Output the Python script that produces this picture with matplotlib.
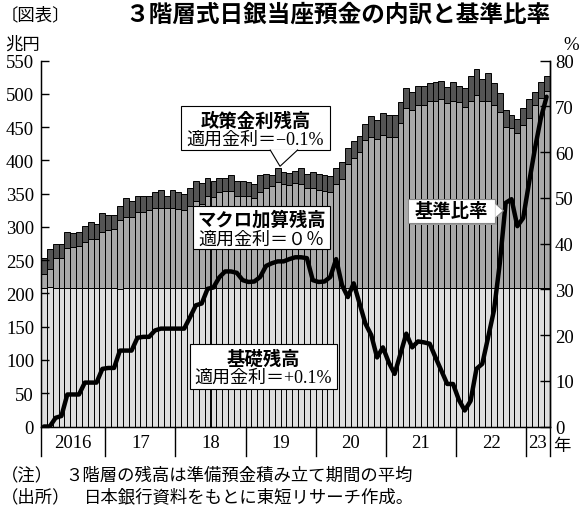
import numpy as np
import matplotlib.pyplot as plt
from matplotlib.patches import Rectangle, Polygon
from matplotlib.transforms import Affine2D

plt.rcParams['font.family'] = ['Liberation Serif', 'Noto Sans CJK JP']
JP = ['Noto Sans CJK JP']

W, H = 581, 510  # 出力サイズ (px)

# 年ラベルと各年の月数 (2016年2月〜2023年4月)
years = ['2016', '17', '18', '19', '20', '21', '22', '23']
months_in_year = [11, 12, 12, 12, 12, 12, 12, 4]

# 基礎残高 (兆円)
base = [208, 210, 208, 208, 208, 208, 208, 208, 208, 208, 208, 208, 208, 207, 208,
        208, 208, 208, 208, 208, 208, 208, 208, 208, 208, 208, 208, 208, 208, 208,
        208, 208, 208, 208, 208, 208, 208, 208, 208, 208, 208, 208, 208, 208, 208,
        208, 208, 208, 208, 208, 208, 208, 208, 208, 208, 208, 208, 208, 208, 208,
        208, 208, 208, 208, 208, 208, 208, 208, 208, 208, 208, 208, 208, 208, 208,
        208, 208, 208, 208, 208, 208, 208, 208, 208, 208, 208, 208]

# マクロ加算残高 (兆円)
macro = [21, 26, 46, 46, 60, 62, 63, 69, 74, 74, 85, 88, 89, 103, 107,
         107, 115, 115, 117, 121, 121, 121, 121, 119, 117, 123, 131, 127, 138, 137,
         144, 146, 146, 138, 138, 138, 136, 144, 151, 153, 159, 156, 155, 158, 157,
         151, 150, 148, 146, 144, 156, 164, 186, 196, 204, 222, 227, 224, 230, 227,
         227, 248, 270, 267, 275, 275, 281, 282, 285, 279, 282, 280, 272, 281, 290,
         282, 282, 275, 264, 242, 240, 233, 245, 256, 275, 286, 297]

# 政策金利残高 (兆円)
policy = [24, 31, 21, 21, 25, 21, 22, 25, 25, 22, 28, 22, 21, 21, 28,
          24, 24, 23, 22, 24, 26, 18, 26, 26, 25, 28, 30, 31, 27, 24,
          22, 20, 24, 23, 23, 21, 20, 26, 20, 17, 21, 18, 18, 18, 24,
          20, 24, 23, 24, 25, 25, 25, 24, 25, 25, 25, 32, 28, 33, 33,
          33, 32, 31, 28, 29, 29, 27, 28, 26, 24, 28, 24, 29, 38, 39,
          33, 41, 34, 29, 25, 20, 21, 26, 28, 20, 24, 22]

# 基準比率 (%)
ratio = [0, 0, 1.9, 2.3, 7.0, 7.0, 7.0, 9.6, 9.6, 9.6, 12.6, 12.8, 12.8, 16.6, 16.6,
         16.6, 19.4, 19.6, 19.6, 21.0, 21.4, 21.4, 21.4, 21.4, 21.4, 23.9, 26.5, 26.9, 30.1, 30.4,
         32.6, 33.9, 33.9, 33.6, 32.0, 31.6, 31.7, 32.7, 35.1, 35.7, 36.1, 36.1, 36.6, 37.0, 37.0,
         36.8, 32.0, 31.6, 31.7, 32.7, 36.6, 30.9, 28.3, 31.3, 26.9, 22.5, 20.0, 15.1, 17.3, 14.0,
         11.5, 15.9, 20.3, 17.3, 18.6, 18.4, 18.1, 15.1, 12.2, 9.3, 9.3, 5.8, 3.5, 5.6, 12.6,
         13.7, 19.5, 25.4, 35.7, 48.9, 49.7, 43.8, 45.6, 53.3, 60.7, 67.3, 72.1]

base = np.array(base)
macro = np.array(macro)
policy = np.array(policy)
x = np.arange(len(base))

fig = plt.figure(figsize=(W / 100, H / 100), dpi=100)
# 元画像のピクセル座標 (左上原点) で置くための変換
px = Affine2D().scale(1 / W, -1 / H).translate(0, 1) + fig.transFigure

ax = fig.add_axes([41 / W, 1 - 427.5 / H, (549.5 - 41) / W, (427.5 - 61.6) / H])
ax.bar(x, base, width=1.0, color='#dedede', edgecolor='black', linewidth=0.7)
ax.bar(x, macro, bottom=base, width=1.0, color='#a9a9a9', edgecolor='black', linewidth=0.7)
ax.bar(x, policy, bottom=base + macro, width=1.0, color='#545454', edgecolor='black', linewidth=0.7)
ax.set_xlim(-0.5, len(x) - 0.5)
ax.set_ylim(0, 550)
ax.set_yticks(range(0, 551, 50))
ax.set_xticks([])
ax.tick_params(axis='y', direction='in', length=6, width=1, labelsize=13.5, pad=5)
ax.spines['top'].set_visible(False)
for s in ['left', 'right', 'bottom']:
    ax.spines[s].set_linewidth(1)

ax2 = ax.twinx()
ax2.plot(x, ratio, color='black', linewidth=3.2, solid_joinstyle='round', solid_capstyle='round')
ax2.set_ylim(0, 80)
ax2.set_yticks(range(0, 81, 10))
ax2.tick_params(axis='y', direction='in', length=7, width=1, labelsize=13.5, pad=4)
for lab in ax2.get_yticklabels():
    lab.set_verticalalignment('center_baseline')
ax2.spines['top'].set_visible(False)
ax2.spines['right'].set_linewidth(1)

# 年の区切りと年ラベル
edges = np.concatenate([[0], np.cumsum(months_in_year)]) - 0.5
for e in edges:
    ax.plot([e, e], [0, -0.08], color='black', linewidth=1, clip_on=False,
            transform=ax.get_xaxis_transform())
for i, y in enumerate(years):
    ax.text((edges[i] + edges[i + 1]) / 2, -0.045, y, ha='center', va='center',
            fontsize=13.5, transform=ax.get_xaxis_transform())
fig.text(562 / W, 1 - 446 / H, '年', ha='center', va='center', fontsize=12.5, family=JP)

# 単位
fig.text(5 / W, 1 - 45 / H, '兆円', ha='left', va='center', fontsize=12.5, family=JP)
fig.text(571 / W, 1 - 45 / H, '%', ha='center', va='center', fontsize=13.5)

# タイトル
fig.text(1 / W, 1 - 15 / H, '〔図表〕', ha='left', va='center', fontsize=12.5, family=JP)
fig.text(125 / W, 1 - 15 / H, '３階層式日銀当座預金の内訳と基準比率', ha='left', va='center',
         fontsize=17, fontweight='bold', family=JP)


def callout(x0, y0, x1, y1, title, sub, ec='black'):
    fig.add_artist(Rectangle((x0, y0), x1 - x0, y1 - y0, transform=px, facecolor='white',
                             edgecolor=ec, linewidth=0.8, zorder=5))
    cx = (x0 + x1) / 2
    fig.text(cx / W, 1 - (y0 + 14) / H, title, ha='center', va='center', fontsize=13.2,
             fontweight='bold', family=JP, zorder=7)
    if sub:
        fig.text(cx / W, 1 - (y0 + 33.5) / H, sub, ha='center', va='center', fontsize=13, zorder=7)


callout(180.7, 107, 330, 151, '政策金利残高', '適用金利＝−0.1%')
fig.add_artist(Polygon([(270, 150.6), (280, 167.3), (298, 150.6)], closed=False, transform=px,
                       facecolor='white', edgecolor='black', linewidth=0.8, zorder=6))
callout(192.7, 206.5, 330, 250, 'マクロ加算残高', '適用金利＝０％')
callout(190, 345, 336.7, 390, '基礎残高', '適用金利＝+0.1%')

# 基準比率のラベル (影付き)
fig.add_artist(Rectangle((410, 202), 87, 23.5, transform=px, facecolor='#9a9a9a',
                         edgecolor='none', zorder=4))
fig.add_artist(Rectangle((408.3, 200), 87, 23.5, transform=px, facecolor='white',
                         edgecolor='#888888', linewidth=0.8, zorder=5))
fig.add_artist(Polygon([(495.3, 204.5), (503.5, 211.7), (495.3, 219)], closed=False, transform=px,
                       facecolor='white', edgecolor='#888888', linewidth=0.8, zorder=6))
fig.text(451.8 / W, 1 - 211.7 / H, '基準比率', ha='center', va='center', fontsize=13.2,
         fontweight='bold', family=JP, zorder=7)

# 注記
fig.text(1 / W, 1 - 476 / H, '（注）', ha='left', va='center', fontsize=12.5, family=JP)
fig.text(65 / W, 1 - 476 / H, '３階層の残高は準備預金積み立て期間の平均', ha='left', va='center',
         fontsize=12.5, family=JP)
fig.text(1 / W, 1 - 497 / H, '（出所）', ha='left', va='center', fontsize=12.5, family=JP)
fig.text(84 / W, 1 - 497 / H, '日本銀行資料をもとに東短リサーチ作成。', ha='left', va='center',
         fontsize=12.5, family=JP)

fig.savefig('out.png', dpi=100)
